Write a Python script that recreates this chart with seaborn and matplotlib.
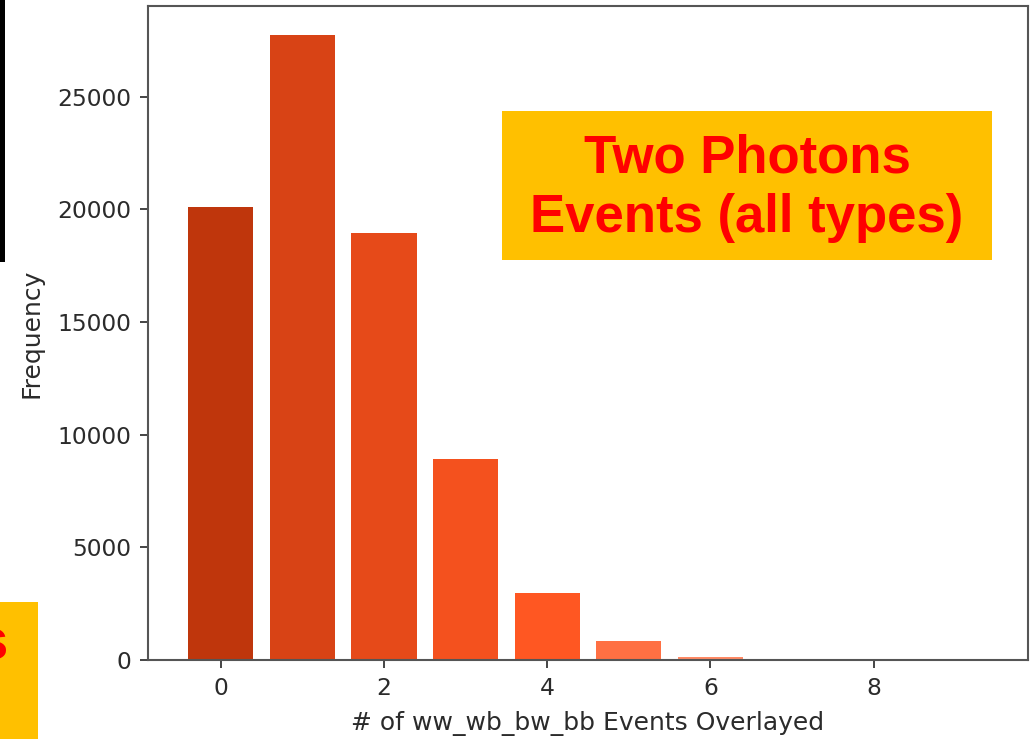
import matplotlib
matplotlib.use("Agg")
import matplotlib.pyplot as plt
import seaborn as sns
import pandas as pd
from matplotlib.patches import Rectangle

# Number of overlaid ww/wb/bw/bb events per two-photon event
n_overlaid = [0, 1, 2, 3, 4, 5, 6, 7, 8, 9]
frequency = [20090, 27760, 18950, 8900, 2990, 860, 150, 25, 4, 1]
bar_colors = ["#BF360C", "#D84315", "#E64A19", "#F4511E", "#FF5722",
              "#FF7043", "#FF8A65", "#FFAB91", "#FFCCBC", "#FBE9E7"]

x_label = "# of ww_wb_bw_bb Events Overlayed"
y_label = "Frequency"
title_text = "ww_wb_bw_bb"
box_text = "Two Photons\nEvents (all types)"

df = pd.DataFrame({"n": n_overlaid, "freq": frequency})

plt.rcParams["font.family"] = ["DejaVu Sans"]
fig = plt.figure(figsize=(10.34, 7.39), dpi=100)
ax = fig.add_axes([0.1431, 0.1069, 0.8511, 0.8845])

sns.barplot(data=df, x="n", y="freq", hue="n", palette=bar_colors,
            native_scale=True, legend=False, width=0.8, linewidth=0,
            saturation=1, ax=ax)

ax.set_xlim(-0.89, 9.89)
ax.set_ylim(0, 1.045 * max(frequency))
ax.set_xticks([0, 2, 4, 6, 8])
ax.set_yticks([0, 5000, 10000, 15000, 20000, 25000])

fs = 16.8
text_col = "#2b2b2b"
ax.set_xlabel(x_label, fontsize=18, color=text_col, labelpad=8)
ax.set_ylabel(y_label, fontsize=18, color=text_col, labelpad=10)
ax.tick_params(labelsize=fs, colors="#444444", labelcolor=text_col,
               length=6, width=1.4, pad=6)
for sp in ax.spines.values():
    sp.set_color("#555555")
    sp.set_linewidth(1.5)

# Chart title sits mostly above the visible frame
fig.text(0.5445, 1.0095, title_text, ha="center", va="baseline",
         fontsize=fs * 1.2, color=text_col)

# Highlight box with the event selection
fig.patches.append(Rectangle((502 / 1034, 1 - 260 / 739), 490 / 1034,
                             149 / 739, transform=fig.transFigure,
                             facecolor="#FFC000", edgecolor="none",
                             zorder=1))
fig.text(747 / 1034, 1 - 188 / 739, box_text, ha="center", va="center",
         fontsize=38, fontweight="bold", family="Liberation Sans",
         color="#FF0000", linespacing=1.25, zorder=2)

# Slide elements along the left edge
fig.patches.append(Rectangle((0, 1 - 262 / 739), 5 / 1034, 262 / 739,
                             transform=fig.transFigure,
                             facecolor="black", edgecolor="none", zorder=1))
fig.patches.append(Rectangle((0, 0), 38 / 1034, 137 / 739,
                             transform=fig.transFigure,
                             facecolor="#FFC000", edgecolor="none", zorder=1))
fig.text(8 / 1034, 1 - 660 / 739, "s", ha="right", va="baseline",
         fontsize=42, fontweight="bold", family="Liberation Sans",
         color="#FF0000", zorder=2)

fig.savefig("out.png", dpi=100)
